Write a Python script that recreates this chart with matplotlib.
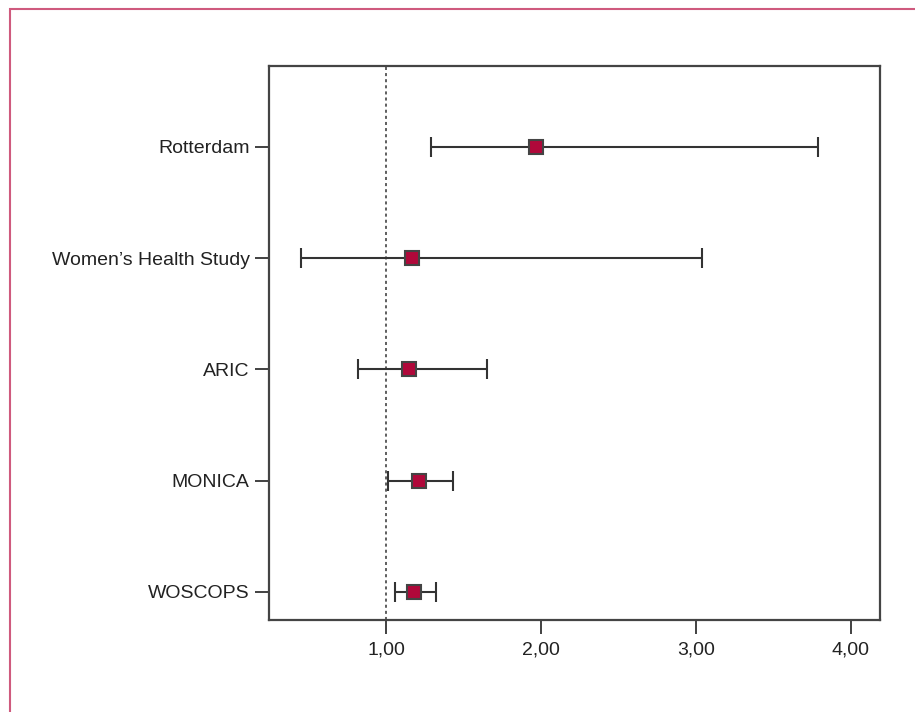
import matplotlib
matplotlib.use("Agg")
import matplotlib.pyplot as plt
from matplotlib.patches import Rectangle
import numpy as np

plt.rcParams['font.family'] = ['Liberation Sans Narrow', 'Liberation Sans', 'DejaVu Sans']

studies = ["WOSCOPS", "MONICA", "ARIC", "Women\u2019s Health Study", "Rotterdam"]
or_vals = [1.18, 1.21, 1.15, 1.17, 1.97]
ci_low = [1.06, 1.01, 0.82, 0.45, 1.29]
ci_high = [1.32, 1.43, 1.65, 3.04, 3.79]
xticks = [1.0, 2.0, 3.0, 4.0]
xtick_labels = ["1,00", "2,00", "3,00", "4,00"]

fig = plt.figure(figsize=(9.15, 7.12), dpi=100)
ax = fig.add_axes([0.294, 0.1296, 0.6677, 0.7781])

y = np.arange(len(studies))
or_arr = np.array(or_vals)
xerr = [or_arr - np.array(ci_low), np.array(ci_high) - or_arr]

ax.axvline(1.0, color="#333333", lw=1.1, ls=(0, (2, 2)), zorder=1)
ax.errorbar(or_arr, y, xerr=xerr, fmt="none", ecolor="#333333",
            elinewidth=1.5, capsize=7, capthick=1.5, zorder=2)
ax.plot(or_arr, y, "s", ms=10, mfc="#b0083a", mec="#444444", mew=1.5,
        ls="none", zorder=3)

ax.set_xlim(0.245, 4.187)
ax.set_ylim(-0.25, 4.73)
ax.set_xticks(xticks)
ax.set_xticklabels(xtick_labels)
ax.set_yticks(y)
ax.set_yticklabels(studies)
ax.tick_params(axis="both", length=10, width=1.3, color="#333333",
               labelsize=14, labelcolor="#222222")
ax.tick_params(axis="x", pad=6)
ax.tick_params(axis="y", pad=4)
for s in ax.spines.values():
    s.set_color("#444444")
    s.set_linewidth(1.6)

# pink frame round the figure
fig.add_artist(Rectangle((10 / 915, -0.5), 2, 0.5 + 1 - 9 / 712,
                         transform=fig.transFigure, fill=False,
                         edgecolor="#cf5a7e", lw=1.5))

fig.savefig("out.png", dpi=100)
